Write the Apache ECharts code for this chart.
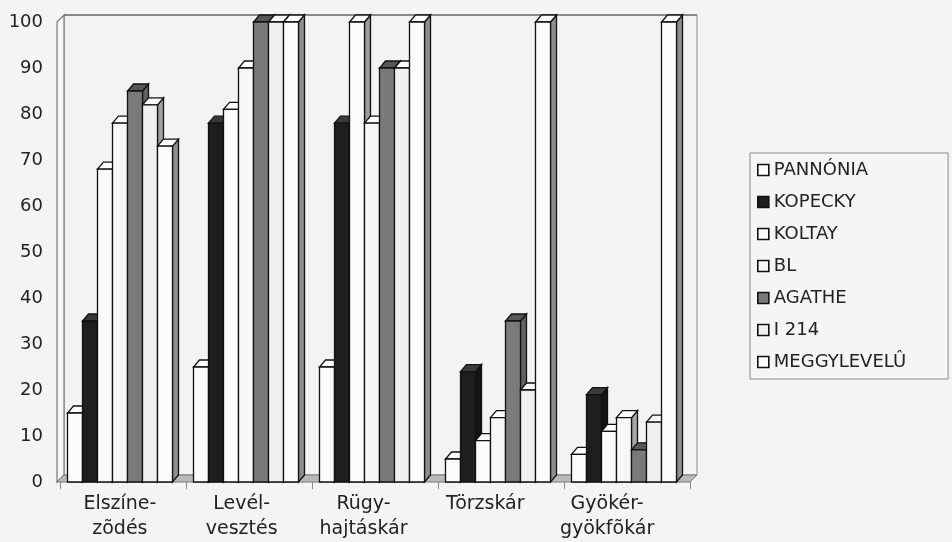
<!DOCTYPE html>
<html>
<head>
<meta charset="utf-8">
<script src="https://cdn.jsdelivr.net/npm/echarts@6/dist/echarts.min.js"></script>
<style>
  html, body { margin: 0; padding: 0; background: #f4f4f4; }
  #chart { width: 952px; height: 542px; }
</style>
</head>
<body>
<div id="chart"></div>
<script>
// Damage categories (x axis)
const categories = ['Elszíne-\nzõdés', 'Levél-\nvesztés', 'Rügy-\nhajtáskár', 'Törzskár', 'Gyökér-\ngyökfõkár'];

// Variety names (legend / series)
const varieties = ['PANNÓNIA', 'KOPECKY', 'KOLTAY', 'BL', 'AGATHE', 'I 214', 'MEGGYLEVELÛ'];

// Values per variety, one per category
const pannonia = [15, 25, 25, 5, 6];
const kopecky  = [35, 78, 78, 24, 19];
const koltay   = [68, 81, 100, 9, 11];
const bl       = [78, 90, 78, 14, 14];
const agathe   = [85, 100, 90, 35, 7];
const i214     = [82, 100, 90, 20, 13];
const meggy    = [73, 100, 100, 100, 100];

// Value axis ticks
const yTicks = { min: 0, max: 100, interval: 10 };

const seriesValues = [pannonia, kopecky, koltay, bl, agathe, i214, meggy];

// Face shades for each column: front, top, side
const shades = [
  { front: '#fbfbfb', top: '#ffffff', side: '#9c9c9c' },
  { front: '#1e1e1e', top: '#3a3a3a', side: '#141414' },
  { front: '#fbfbfb', top: '#ffffff', side: '#9c9c9c' },
  { front: '#f7f7f7', top: '#ffffff', side: '#a6a6a6' },
  { front: '#7a7a7a', top: '#575757', side: '#626262' },
  { front: '#f0f0f0', top: '#fafafa', side: '#a0a0a0' },
  { front: '#fbfbfb', top: '#ffffff', side: '#8e8e8e' }
];

const BAR_W = 15;      // front face width
const DEPTH_X = 6;     // pseudo-3D depth offset
const DEPTH_Y = 7;
const STROKE = '#111';

function barRenderer(sIdx) {
  return function (params, api) {
    const cat = api.value(0);
    const val = api.value(1);
    const base = api.coord([cat, 0]);
    const top = api.coord([cat, val]);
    const groupW = varieties.length * BAR_W + DEPTH_X;
    const x0 = base[0] - groupW / 2 + sIdx * BAR_W;
    const x1 = x0 + BAR_W;
    const yb = base[1];
    const yt = top[1];
    const sh = shades[sIdx];
    const lw = 1.3;
    return {
      type: 'group',
      children: [
        {
          type: 'polygon',
          shape: { points: [[x1, yt], [x1 + DEPTH_X, yt - DEPTH_Y], [x1 + DEPTH_X, yb - DEPTH_Y], [x1, yb]] },
          style: { fill: sh.side, stroke: STROKE, lineWidth: lw }
        },
        {
          type: 'polygon',
          shape: { points: [[x0, yt], [x1, yt], [x1 + DEPTH_X, yt - DEPTH_Y], [x0 + DEPTH_X, yt - DEPTH_Y]] },
          style: { fill: sh.top, stroke: STROKE, lineWidth: lw }
        },
        {
          type: 'rect',
          shape: { x: x0, y: yt, width: BAR_W, height: yb - yt },
          style: { fill: sh.front, stroke: STROKE, lineWidth: lw }
        }
      ]
    };
  };
}

// Walls and floor of the pseudo-3D plot box
function wallRenderer(params, api) {
  const cs = params.coordSys;
  const yTop = api.coord([0, 100])[1];
  const xL = cs.x - 3;
  const xR = cs.x + cs.width;
  const yB = cs.y + cs.height;
  const dx = 7, dy = 7;
  return {
    type: 'group',
    children: [
      {
        type: 'rect',
        shape: { x: xL + dx, y: yTop - dy, width: xR - xL, height: yB - yTop },
        style: { fill: '#f3f3f3', stroke: '#8a8a8a', lineWidth: 1 }
      },
      {
        type: 'line',
        shape: { x1: xL + dx, y1: yTop - dy, x2: xR + dx, y2: yTop - dy },
        style: { stroke: '#555', lineWidth: 1.2 }
      },
      {
        type: 'polygon',
        shape: { points: [[xL, yB], [xL, yTop], [xL + dx, yTop - dy], [xL + dx, yB - dy]] },
        style: { fill: '#f6f6f6', stroke: '#777', lineWidth: 1.2 }
      },
      {
        type: 'polygon',
        shape: { points: [[xL, yB], [xR, yB], [xR + dx, yB - dy], [xL + dx, yB - dy]] },
        style: { fill: '#b9b9b9', stroke: '#777', lineWidth: 1 }
      }
    ]
  };
}

const chart = echarts.init(document.getElementById('chart'), null, { renderer: 'canvas' });

const series = [
  {
    type: 'custom',
    name: '__walls',
    xAxisIndex: 0,
    yAxisIndex: 0,
    silent: true,
    z: 0,
    data: [[0, 0]],
    renderItem: wallRenderer
  }
];
varieties.forEach(function (name, s) {
  series.push({
    type: 'custom',
    name: name,
    xAxisIndex: 0,
    yAxisIndex: 0,
    z: 2,
    itemStyle: { color: shades[s].front, borderColor: STROKE, borderWidth: 1.5 },
    encode: { x: 0, y: 1 },
    data: seriesValues[s].map(function (v, i) { return [i, v]; }),
    renderItem: barRenderer(s)
  });
});

const FONT = 'DejaVu Sans';

chart.setOption({
  backgroundColor: '#f4f4f4',
  animation: false,
  grid: [
    { left: 60, right: 262, top: 22, bottom: 60 },
    { left: 59, right: 284, top: 22, bottom: 60 }
  ],
  xAxis: [
    {
      type: 'category',
      gridIndex: 0,
      data: categories,
      axisLine: { show: false },
      axisTick: { show: true, length: 7, lineStyle: { color: '#888' } },
      axisLabel: { show: false },
      splitLine: { show: false }
    },
    {
      type: 'category',
      gridIndex: 1,
      data: categories,
      axisLine: { show: false },
      axisTick: { show: false },
      axisLabel: { interval: 0, hideOverlap: false, fontFamily: FONT, fontSize: 19, color: '#222', lineHeight: 25, margin: 11 },
      splitLine: { show: false }
    }
  ],
  yAxis: [
    {
      type: 'value',
      gridIndex: 0,
      min: yTicks.min,
      max: yTicks.max,
      interval: yTicks.interval,
      axisLine: { show: false },
      axisTick: { show: false },
      splitLine: { show: false },
      axisLabel: { fontFamily: FONT, fontSize: 18, color: '#222', margin: 17 }
    },
    {
      type: 'value',
      gridIndex: 1,
      min: yTicks.min,
      max: yTicks.max,
      show: false
    }
  ],
  legend: {
    orient: 'vertical',
    left: 750,
    top: 153,
    padding: [7, 42, 7, 7],
    itemGap: 12,
    itemWidth: 11,
    itemHeight: 11,
    icon: 'rect',
    borderColor: '#8a8a8a',
    borderWidth: 1,
    backgroundColor: '#f5f5f5',
    textStyle: { fontFamily: FONT, fontSize: 18, color: '#222', lineHeight: 20 },
    data: varieties.map(function (name, s) {
      return { name: name, itemStyle: { color: shades[s].front, borderColor: STROKE, borderWidth: 1.6 } };
    })
  },
  series: series
});
</script>
</body>
</html>
